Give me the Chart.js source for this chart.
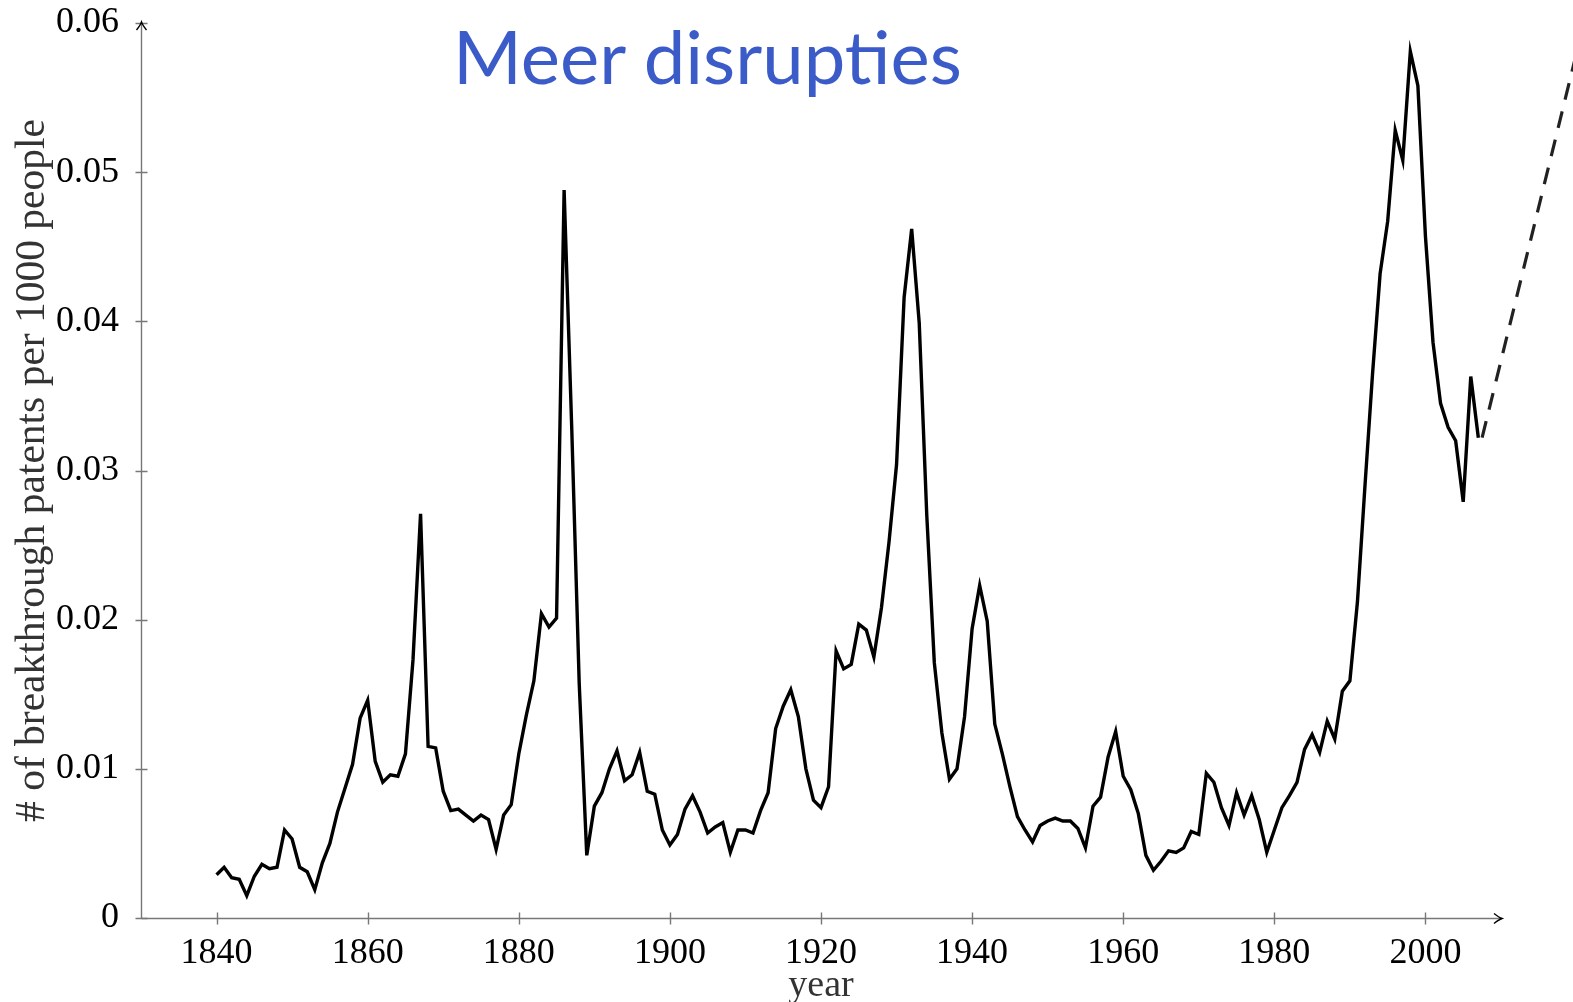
<!DOCTYPE html>
<html>
<head>
<meta charset="utf-8">
<script src="https://cdn.jsdelivr.net/npm/chart.js@4.4.0/dist/chart.umd.min.js"></script>
<style>
html,body{margin:0;padding:0;background:#fff;overflow:hidden}
#wrap{position:relative;width:1573px;height:1002px}
#c{position:absolute;left:0;top:0;width:1573px;height:1002px}
#title{position:absolute;left:453px;top:19px;font-family:Lato,'Open Sans',sans-serif;font-size:72px;color:#3b5bc8;white-space:nowrap;line-height:1}
</style>
</head>
<body>
<div id="wrap">
<canvas id="c" width="1573" height="1002"></canvas>
<div id="title">Meer disrupties</div>
</div>
<script>
// ---- data ----
const firstYear = 1840;
const values = [
  // 1840s
  0.0029, 0.0034, 0.0027, 0.0026, 0.0015, 0.0028, 0.0036, 0.0033, 0.0034, 0.0059,
  // 1850s
  0.0053, 0.0034, 0.0031, 0.0019, 0.0037, 0.0050, 0.0071, 0.0087, 0.0103, 0.0134,
  // 1860s
  0.0146, 0.0105, 0.0091, 0.0096, 0.0095, 0.0110, 0.0173, 0.0271, 0.0115, 0.0114,
  // 1870s
  0.0085, 0.0072, 0.0073, 0.0069, 0.0065, 0.0069, 0.0066, 0.0046, 0.0069, 0.0076,
  // 1880s
  0.0110, 0.0136, 0.0159, 0.0204, 0.0195, 0.0201, 0.0488, 0.0330, 0.0157, 0.0042,
  // 1890s
  0.0075, 0.0084, 0.0100, 0.0112, 0.0092, 0.0096, 0.0111, 0.0085, 0.0083, 0.0059,
  // 1900s
  0.0049, 0.0056, 0.0073, 0.0082, 0.0071, 0.0057, 0.0061, 0.0064, 0.0044, 0.0059,
  // 1910s
  0.0059, 0.0057, 0.0072, 0.0084, 0.0127, 0.0142, 0.0153, 0.0135, 0.0100, 0.0079,
  // 1920s
  0.0074, 0.0088, 0.0179, 0.0167, 0.0170, 0.0197, 0.0193, 0.0175, 0.0208, 0.0252,
  // 1930s
  0.0304, 0.0416, 0.0462, 0.0399, 0.0270, 0.0171, 0.0124, 0.0093, 0.0100, 0.0135,
  // 1940s
  0.0194, 0.0223, 0.0199, 0.0130, 0.0110, 0.0088, 0.0068, 0.0059, 0.0051, 0.0062,
  // 1950s
  0.0065, 0.0067, 0.0065, 0.0065, 0.0060, 0.0047, 0.0075, 0.0081, 0.0108, 0.0125,
  // 1960s
  0.0095, 0.0086, 0.0070, 0.0042, 0.0032, 0.0038, 0.0045, 0.0044, 0.0047, 0.0058,
  // 1970s
  0.0056, 0.0097, 0.0091, 0.0074, 0.0062, 0.0084, 0.0069, 0.0082, 0.0066, 0.0044,
  // 1980s
  0.0059, 0.0074, 0.0082, 0.0091, 0.0113, 0.0123, 0.0111, 0.0132, 0.0120, 0.0152,
  // 1990s
  0.0159, 0.0212, 0.0290, 0.0365, 0.0432, 0.0467, 0.0528, 0.0508, 0.0581, 0.0558,
  // 2000s
  0.0457, 0.0386, 0.0345, 0.0329, 0.0320, 0.0279, 0.0363, 0.0322
];
const years = values.map((_, i) => firstYear + i);

const projYears = [2007.5, 2020];
const projValues = [0.0322, 0.0580];

const xTicks = [1840, 1860, 1880, 1900, 1920, 1940, 1960, 1980, 2000];
const yTicks = [0, 0.01, 0.02, 0.03, 0.04, 0.05, 0.06];
const yTickLabels = ['0', '0.01', '0.02', '0.03', '0.04', '0.05', '0.06'];

const titleText = 'Meer disrupties';
const xTitle = 'year';
const yTitle = '# of breakthrough patents per 1000 people';

// ---- title sizing ----
const tEl = document.getElementById('title');
tEl.textContent = titleText;
(function fitTitle(){
  const w = tEl.getBoundingClientRect().width;
  if (w > 0) tEl.style.fontSize = (72 * 509 / w) + 'px';
})();

// ---- axes in TikZ/pgfplots style ----
const texAxes = {
  id: 'texAxes',
  beforeDatasetsDraw(chart) {
    const {ctx, chartArea: a, scales: {x, y}} = chart;
    const ax = a.left + 0.5, ay = a.bottom + 0.5;
    ctx.save();
    ctx.strokeStyle = '#777';
    ctx.lineWidth = 1.4;
    ctx.beginPath();
    ctx.moveTo(ax, ay); ctx.lineTo(ax, a.top - 1);
    ctx.moveTo(ax, ay); ctx.lineTo(a.right + 1, ay);
    ctx.stroke();
    ctx.beginPath();
    x.ticks.forEach(t => {
      const px = Math.round(x.getPixelForValue(t.value)) + 0.5;
      ctx.moveTo(px, ay - 6); ctx.lineTo(px, ay + 6);
    });
    y.ticks.forEach(t => {
      const py = Math.round(y.getPixelForValue(t.value)) + 0.5;
      ctx.moveTo(ax - 6, py); ctx.lineTo(ax + 6, py);
    });
    ctx.stroke();
    ctx.strokeStyle = '#000';
    ctx.lineWidth = 1.4;
    const ty = a.top - 1;
    ctx.beginPath();
    ctx.moveTo(ax - 5, ty + 8);
    ctx.quadraticCurveTo(ax - 1, ty + 3, ax, ty);
    ctx.quadraticCurveTo(ax + 1, ty + 3, ax + 5, ty + 8);
    ctx.stroke();
    const tx = a.right + 1;
    ctx.beginPath();
    ctx.moveTo(tx - 8, ay - 5);
    ctx.quadraticCurveTo(tx - 3, ay - 1, tx, ay);
    ctx.quadraticCurveTo(tx - 3, ay + 1, tx - 8, ay + 5);
    ctx.stroke();
    ctx.restore();
  }
};

const serif = "'Liberation Serif', 'Times New Roman', serif";

new Chart(document.getElementById('c'), {
  type: 'line',
  data: {
    datasets: [
      {
        data: years.map((yr, i) => ({x: yr, y: values[i]})),
        borderColor: '#000',
        borderWidth: 3.4,
        pointRadius: 0,
        tension: 0,
        borderJoinStyle: 'miter',
        borderCapStyle: 'butt',
        fill: false
      },
      {
        data: projYears.map((yr, i) => ({x: yr, y: projValues[i]})),
        borderColor: '#222',
        borderWidth: 3.2,
        borderDash: [17, 12],
        pointRadius: 0,
        tension: 0,
        clip: false,
        fill: false
      }
    ]
  },
  options: {
    responsive: false,
    animation: false,
    events: [],
    layout: {padding: {top: 23, right: 72, bottom: 0, left: 0}},
    plugins: {legend: {display: false}, tooltip: {enabled: false}},
    scales: {
      x: {
        type: 'linear',
        min: 1830,
        max: 2010,
        afterBuildTicks: s => { s.ticks = xTicks.map(v => ({value: v})); },
        afterFit: s => { s.height = 84; s.paddingLeft = 0; s.paddingRight = 0; },
        grid: {display: false, drawTicks: false},
        border: {display: false},
        ticks: {
          font: {family: serif, size: 36},
          color: '#000',
          padding: 14,
          maxRotation: 0,
          autoSkip: false,
          callback: v => String(v)
        },
        title: {
          display: true,
          text: xTitle,
          font: {family: serif, size: 38, lineHeight: 0.85},
          color: '#333',
          padding: {top: 0, bottom: 0}
        }
      },
      y: {
        type: 'linear',
        min: 0,
        max: 0.06,
        afterBuildTicks: s => { s.ticks = yTicks.map(v => ({value: v})); },
        afterFit: s => { s.width = 141; s.paddingTop = 0; s.paddingBottom = 0; },
        grid: {display: false, drawTicks: false},
        border: {display: false},
        ticks: {
          font: {family: serif, size: 36},
          color: '#000',
          padding: 22,
          autoSkip: false,
          callback: v => { const k = yTicks.indexOf(v); return k >= 0 ? yTickLabels[k] : ''; }
        },
        title: {
          display: true,
          text: yTitle,
          font: {family: serif, size: 41.5, lineHeight: 1.2},
          color: '#333',
          padding: {top: 8, bottom: 0}
        }
      }
    }
  },
  plugins: [texAxes]
});
</script>
</body>
</html>
